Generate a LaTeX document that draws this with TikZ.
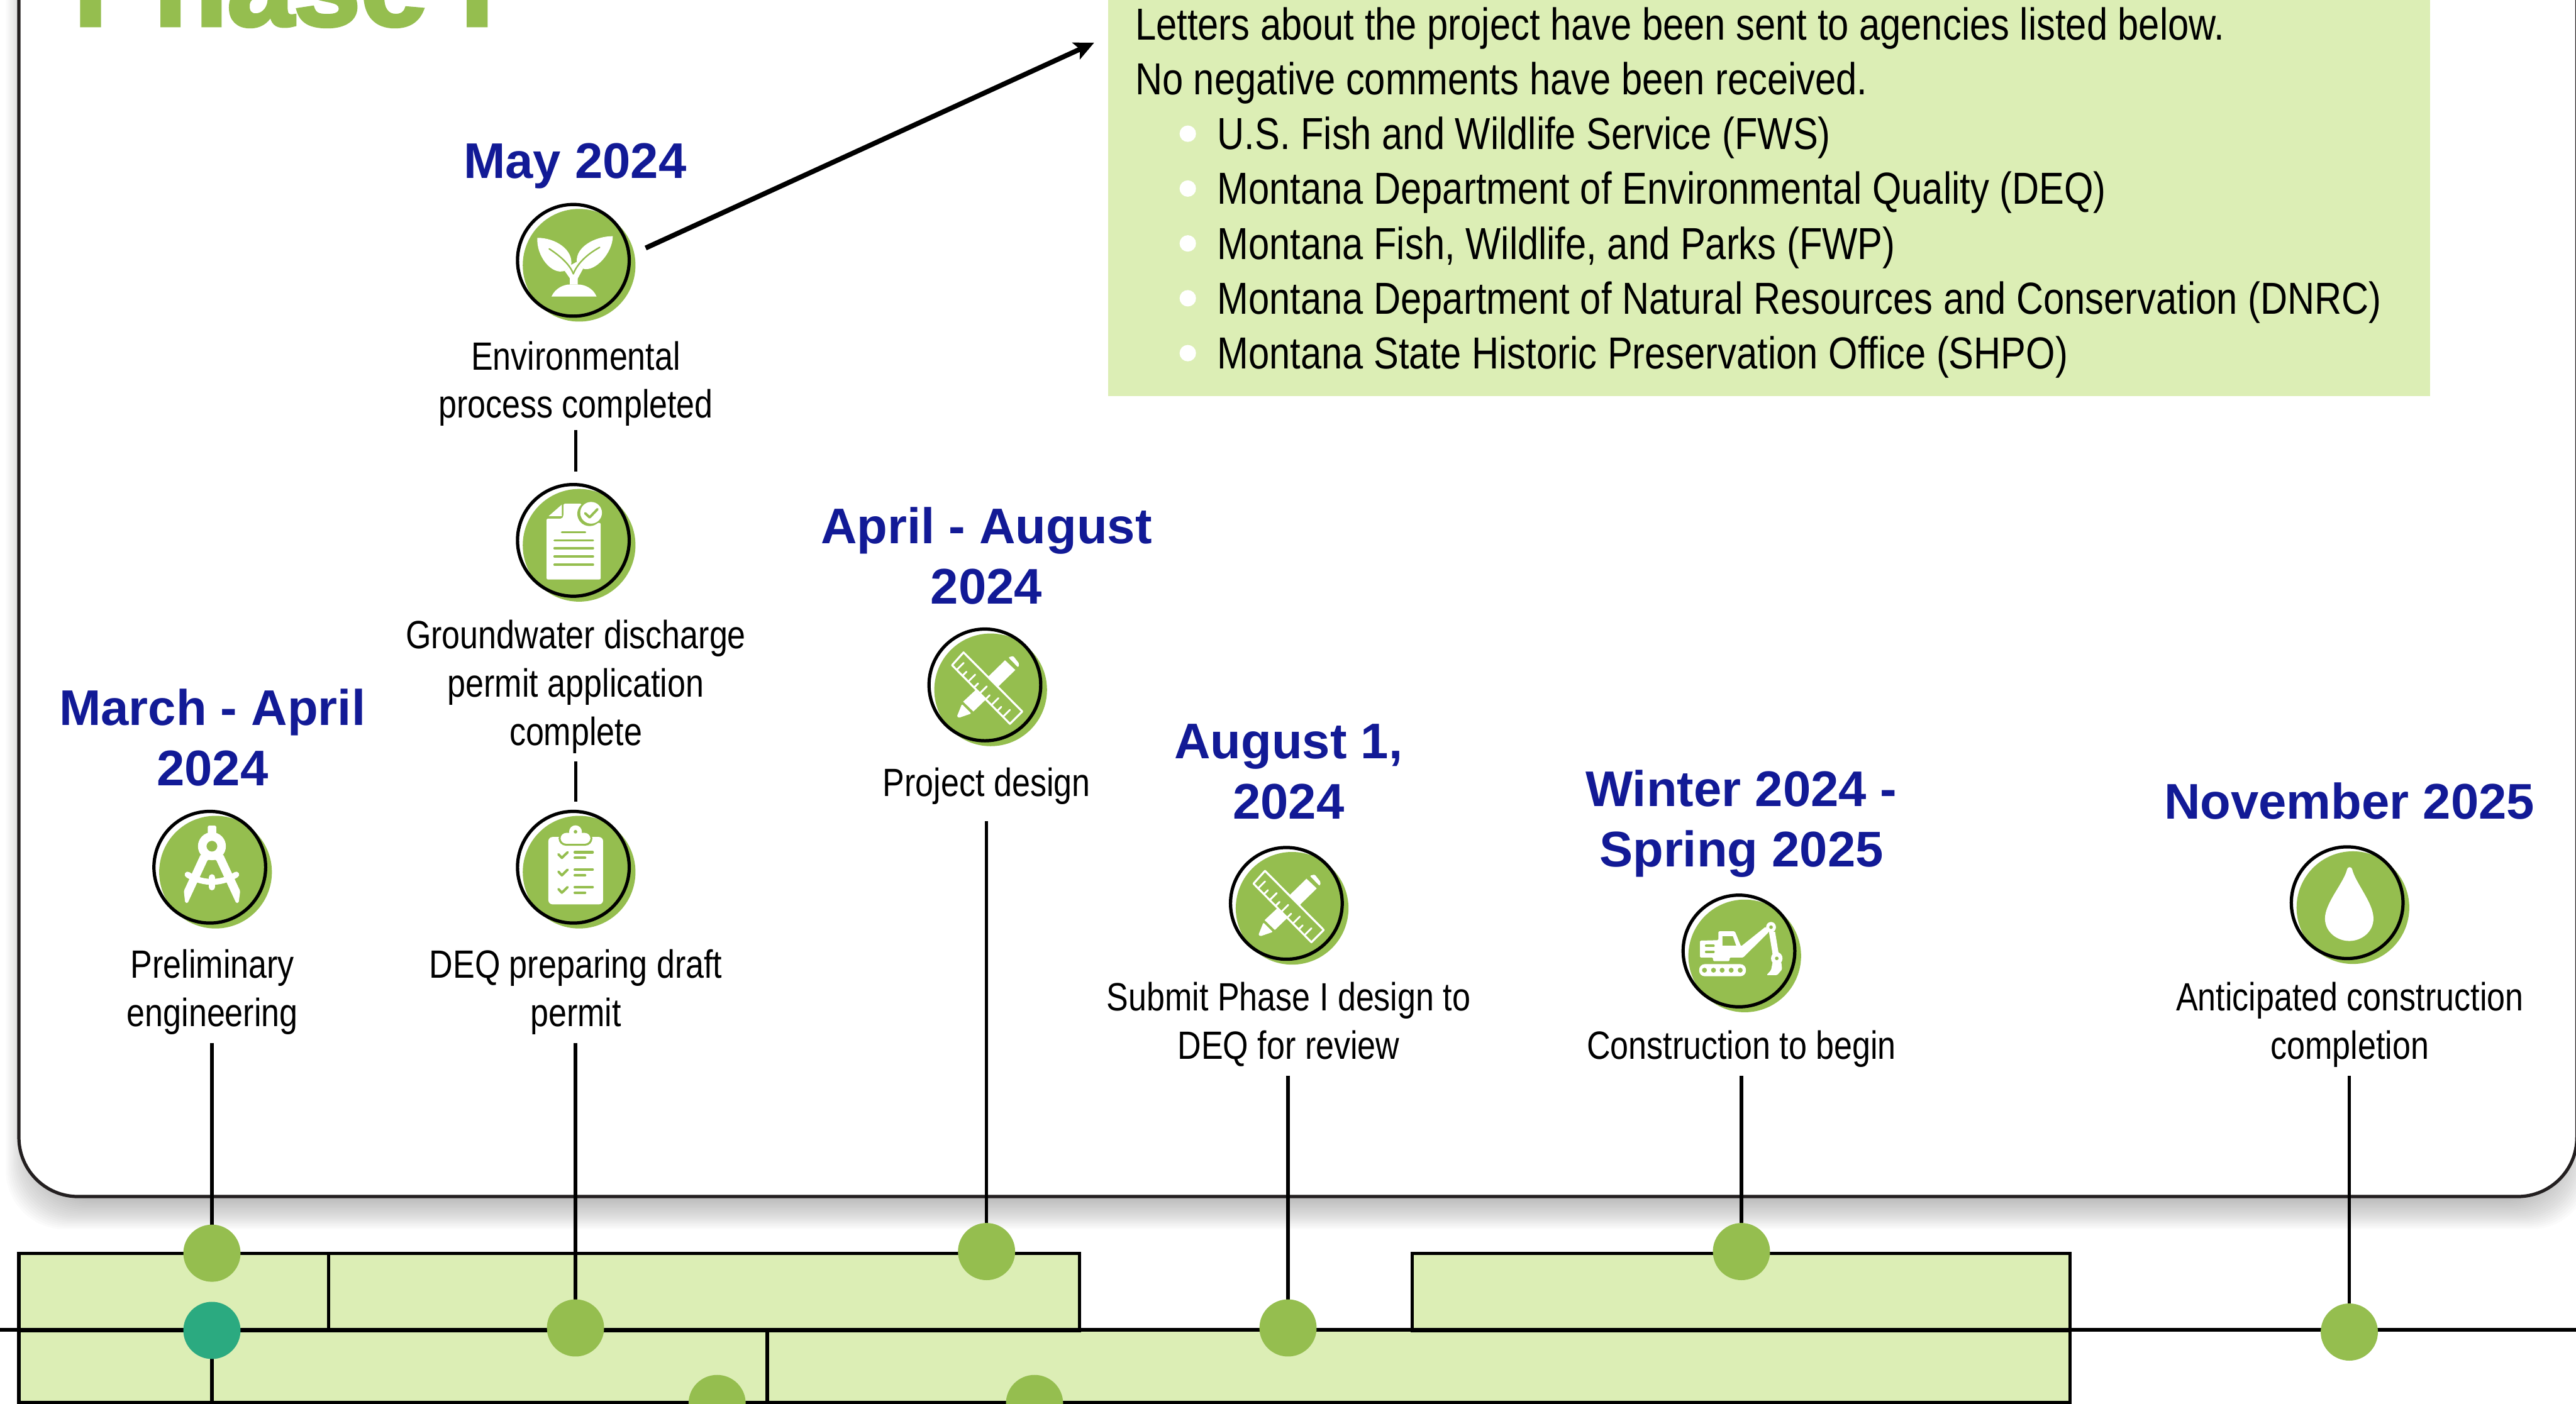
\documentclass[tikz,border=0pt]{standalone}
\usepackage{fontspec}
\usetikzlibrary{arrows.meta,backgrounds,calc}
\setmainfont{Liberation Sans}
\newfontfamily\narfont[FakeStretch=0.83]{Liberation Sans}
\newfontfamily\listfont[FakeStretch=0.837]{Liberation Sans}
\newfontfamily\titlefont[FakeBold=3]{Liberation Sans Bold}
\definecolor{ggreen}{HTML}{95BE4F}
\definecolor{lgreen}{HTML}{DCEEB5}
\definecolor{navy}{HTML}{121A96}
\definecolor{teal}{HTML}{2BAA80}
\definecolor{panelline}{HTML}{231F20}
\tikzset{
  x=1pt,y=-1pt,
  body/.style={font=\narfont\fontsize{24}{29.4}\selectfont,align=center,inner sep=0,outer sep=0,anchor=base},
  date/.style={font=\bfseries\fontsize{30.5}{36.8}\selectfont,text=navy,align=center,inner sep=0,outer sep=0,anchor=base},
  listline/.style={font=\listfont\fontsize{27.3}{33}\selectfont,inner sep=0,outer sep=0,anchor=base west},
  dot/.style={circle,fill=ggreen,minimum size=34.8pt,inner sep=0,outer sep=0},
  ring/.style={circle,draw=black,line width=2pt,minimum size=68pt,inner sep=0,outer sep=0},
  conn/.style={draw=black,line width=2pt},
  glyph/.style={fill=white,draw=none},
  gline/.style={draw=ggreen,line cap=round,line join=round},
}
\newcommand{\iconbase}[3]{%
  \fill[ggreen] (#2+3.5,#3+3) circle (34.3);
  \node[ring] (#1) at (#2,#3) {};
}
\begin{document}
\begin{tikzpicture}
\useasboundingbox (0,0) rectangle (1568,854.5);
\clip (0,0) rectangle (1568,854.5);

% dots on the timeline
\node[dot] (d1) at (129,763) {};
\node[dot,fill=teal] (d2) at (129,810) {};
\node[dot] (d3) at (350.3,808.5) {};
\node[dot] (d4) at (600.5,762) {};
\node[dot] (d5) at (784,808.5) {};
\node[dot] (d6) at (1060,762) {};
\node[dot] (d7) at (1430,811) {};
\node[dot] (d8) at (436.5,854.5) {};
\node[dot] (d9) at (629.7,854.5) {};

% icon discs and rings
\iconbase{env}{349}{158.5}
\iconbase{doc}{349}{329}
\iconbase{clip}{349}{528}
\iconbase{comp}{127.7}{528}
\iconbase{pen}{599.5}{417}
\iconbase{subm}{783}{550}
\iconbase{exc}{1058.5}{579}
\iconbase{drop}{1428.7}{549.6}

% title and texts
\node[inner sep=0,outer sep=0,anchor=base west,text=ggreen,font=\titlefont\fontsize{73}{73}\selectfont] (title) at (45,15.5) {Phase I};

\node[date] (dMay) at (350,108.4) {May 2024};
\node[date] (dMar) at (129.3,478.4) {March - April\\2024};
\node[date] (dApr) at (600.4,367.7) {April - August\\2024};
\node[date] (dAug) at (784.3,498.7) {August 1,\\2024};
\node[date] (dWin) at (1060,527.7) {Winter 2024 -\\Spring 2025};
\node[date] (dNov) at (1430,498.7) {November 2025};

\node[body] (tEnv) at (350.5,254.5) {Environmental\\process completed};
\node[body] (tGw) at (350.5,453.8) {Groundwater discharge\\permit application\\complete};
\node[body] (tDeq) at (350.5,625) {DEQ preparing draft\\permit};
\node[body] (tPre) at (129.3,625) {Preliminary\\engineering};
\node[body] (tPro) at (600.5,485) {Project design};
\node[body] (tSub) at (784.4,644.7) {Submit Phase I design to\\DEQ for review};
\node[body] (tCon) at (1060,644.7) {Construction to begin};
\node[body] (tAnt) at (1430.3,644.7) {Anticipated construction\\completion};

\node[listline] (l1) at (691,24.2) {Letters about the project have been sent to agencies listed below.};
\node[listline] (l2) at (691,57.6) {No negative comments have been received.};
\node[listline] (l3) at (741,91) {U.S. Fish and Wildlife Service (FWS)};
\node[listline] (l4) at (741,124.4) {Montana Department of Environmental Quality (DEQ)};
\node[listline] (l5) at (741,157.8) {Montana Fish, Wildlife, and Parks (FWP)};
\node[listline] (l6) at (741,191.2) {Montana Department of Natural Resources and Conservation (DNRC)};
\node[listline] (l7) at (741,224.6) {Montana State Historic Preservation Office (SHPO)};

% free ends of connectors
\coordinate (c1) at (129,635);
\coordinate (c2) at (129,856);
\coordinate (c3) at (350.3,635);
\coordinate (c4) at (600.5,500);
\coordinate (c5) at (784,655);
\coordinate (c6) at (1060,655);
\coordinate (c7) at (1430,655);
\coordinate (c8a) at (350.5,262);
\coordinate (c8b) at (350.5,287);
\coordinate (c9a) at (350.5,463.5);
\coordinate (c9b) at (350.5,488);
\coordinate (a1) at (393,151);
\coordinate (a2) at (666,26);
\coordinate (tlL) at (0,809.6);
\coordinate (tlR) at (1568,809.6);

\begin{pgfonlayer}{background}
  % panel shadow
  \foreach \k in {0,...,20}{
    \fill[black,opacity=0.017,rounded corners=36pt] (23.5-\k,-60) rectangle (1556.5+\k,728.5+\k);
  }
  % panel
  \draw[panelline,fill=white,line width=2pt,rounded corners=36pt] (11.5,-80) rectangle (1568.5,728.5);
  % phase bars
  \fill[lgreen] (11.5,763) rectangle (657,810);
  \fill[lgreen] (859.5,763) rectangle (1260,810);
  \fill[lgreen] (11.5,810) rectangle (1260,854);
  \draw[conn] (11.5,763) rectangle (657,810);
  \draw[conn] (859.5,763) rectangle (1260,810);
  \draw[conn] (11.5,809.6) -- (11.5,854) -- (1260,854) -- (1260,809.6);
  \draw[conn] (200,763) -- (200,809.6);
  \draw[conn] (467,809.6) -- (467,854);
  \draw[conn] (tlL) -- (tlR);
  % note box
  \fill[lgreen] (674.5,-5) rectangle (1479,241);
  % bullets
  \foreach \y in {81.4,114.8,148.2,181.6,215}{
    \fill[white] (723,\y) circle (5);
  }
  % connectors
  \draw[conn] (c1) -- (d1);
  \draw[conn] (d2) -- (c2);
  \draw[conn] (c3) -- (d3);
  \draw[conn] (c4) -- (d4);
  \draw[conn] (c5) -- (d5);
  \draw[conn] (c6) -- (d6);
  \draw[conn] (c7) -- (d7);
  \draw[conn] (c8a) -- (c8b);
  \draw[conn] (c9a) -- (c9b);
  \draw[black,line width=3pt,-{Stealth[length=12pt,width=11pt,inset=2.5pt]}] (a1) -- (a2);
\end{pgfonlayer}

% plant glyph
\begin{scope}[shift={(env.center)}]
  \fill[glyph] (-21.9,-13.7) .. controls (-10.7,-13.7) and (0,-6.4) .. (-1.3,2.75) -- (-5.3,6.4)
     .. controls (-13.3,9.2) and (-22.7,-2.7) .. cycle;
  \fill[glyph] (24,-14.7) .. controls (13.3,-14.7) and (1.3,-8.2) .. (2.1,0.9) -- (5.9,5.1)
     .. controls (13.3,7.3) and (24,-4.6) .. cycle;
  \fill[glyph] (-5.3,6.4) -- (-2.1,11) -- (-2.1,14.7) -- (2.7,14.7) -- (2.7,11) -- (5.9,5.1) -- (2.1,0.9) -- (-1.3,2.75) -- cycle;
  \fill[glyph] (-13.3,22) .. controls (-11,17) and (-6,14.7) .. (-2.1,14.7) -- (2.7,14.7)
     .. controls (7,14.7) and (12,17) .. (14.1,22) -- cycle;
  \draw[gline,line width=0.9pt] (-14.7,-7) .. controls (-7,-2) and (-2,3) .. (0,8.2);
  \draw[gline,line width=0.9pt] (16,-7.9) .. controls (7,-3) and (2,3) .. (0,8.2);
\end{scope}

% document glyph
\begin{scope}[shift={(doc.center)}]
  \fill[glyph,rounded corners=0.8pt] (-16.3,-13.2) -- (-7,-13.2) -- (-6,-14.8) -- (-6,-22.3) -- (5,-22.3) -- (5,-10) -- (16.6,-10.7) -- (16.6,23.8) -- (-16.3,23.8) -- cycle;
  \fill[glyph] (-15,-14.8) -- (-7,-21.8) -- (-7,-14.8) -- cycle;
  \fill[ggreen] (9.9,-16.2) circle (7.5);
  \fill[glyph] (10.8,-16.8) circle (6.6);
  \draw[gline,line width=1.5pt] (7.2,-16.5) -- (9.9,-14) -- (14.7,-19);
  \draw[gline,line width=1.3pt] (-7,-5) -- (7.2,-5);
  \foreach \y in {0,4.8,9.8,14.8}{
    \draw[gline,line width=1.3pt] (-11.5,\y) -- (12,\y);
  }
\end{scope}

% clipboard glyph
\begin{scope}[shift={(clip.center)}]
  \fill[glyph,rounded corners=2.5pt] (-15.2,-18.4) rectangle (18.1,22.6);
  \fill[ggreen,rounded corners=4.5pt] (-9,-21.9) rectangle (11.6,-13.1);
  \fill[glyph,rounded corners=3.5pt] (-7.8,-20.9) rectangle (10.4,-14.3);
  \fill[glyph] (1.3,-21.6) circle (3.9);
  \fill[ggreen] (1.3,-21.6) circle (1.1);
  \foreach \d in {0,10.6,21.2}{
    \draw[gline,line width=1.5pt] (-9.1,-7.9+\d) -- (-7,-5.7+\d) -- (-3.5,-9.1+\d);
    \draw[gline,line width=1.6pt] (0.9,-9.1+\d) -- (11.7,-9.1+\d);
    \draw[gline,line width=1.6pt] (0.9,-5.7+\d) -- (7.1,-5.7+\d);
  }
\end{scope}

% compass glyph
\begin{scope}[shift={(comp.center)}]
  \fill[glyph,rounded corners=0.8pt] (-1.2,-25.3) rectangle (3.9,-18);
  \fill[glyph,rounded corners=0.6pt] (-5.6,-7.7) -- (-15.8,14.5) -- (-15,21.5) -- (-13.5,21.9) -- (-1.2,-4.6) -- (3.8,-4.6) -- (16.1,21.9) -- (17.6,21.5) -- (18.5,14.5) -- (8.2,-7.7) -- cycle;
  \fill[glyph,even odd rule] (1.3,-12.8) circle (8.5) (1.3,-12.8) circle (3.3);
  \draw[white,line width=3.6pt,line cap=round] (-13.5,4.5) .. controls (-8,8) and (-3,8.9) .. (1.3,8.9) .. controls (5.5,8.9) and (10.5,8) .. (16.1,4.5);
  \draw[white,line width=3.9pt,line cap=round] (1.3,6.2) -- (1.3,12.1);
\end{scope}

% ruler and pencil glyphs (two icons)
\foreach \who in {pen,subm}{
\begin{scope}[shift={(\who.center)}]
  \fill[glyph,rounded corners=0.8pt] (14.25,-16.8) -- (17.25,-17.6) -- (21,-12.8) -- (20.25,-10.6) -- cycle;
  \fill[glyph] (12.25,-15) -- (18.5,-9.1) -- (8.25,0.9) -- (2,-5) -- cycle;
  \fill[glyph] (-5.75,3.2) -- (0.25,9.2) -- (-7,16.2) -- (-13.25,10.2) -- cycle;
  \fill[glyph,rounded corners=0.5pt] (-14,11.7) -- (-8.25,17.4) -- (-15.75,20) -- (-17,19.2) -- cycle;
  \draw[fill=ggreen,draw=white,line width=1.2pt,line join=round] (-13,-19.8) -- (-20,-12) -- (15.25,23.7) -- (22.75,16.2) -- cycle;
  \foreach \t/\l in {0.08/6,0.18/3.5,0.28/6,0.38/3.5,0.48/6,0.58/3.5,0.68/6,0.78/3.5,0.88/6}{
    \draw[white,line width=1.1pt,line cap=round] ($(-20,-12)!\t!(15.25,23.7)$) -- ++(\l*0.707,-\l*0.707);
  }
\end{scope}
}

% excavator glyph
\begin{scope}[shift={(exc.center)}]
  \fill[glyph,rounded corners=0.6pt] (-23.75,-6.3) -- (-12.5,-6.6) -- (-12.5,-12) -- (-2.5,-12) -- (1.25,-2.8) -- (16.25,-14.8) -- (18.25,-11.6) -- (2.5,4) -- (-5.75,4) -- (-5.75,6.2) -- (-15.75,6.2) -- (-15.75,4) -- (-23.75,4) -- cycle;
  \fill[ggreen] (-10,-9) -- (-3.75,-9) -- (-1.75,-3.3) -- (-10,-3.3) -- cycle;
  \draw[gline,line width=1.5pt] (-20,-3.1) -- (-15.5,-3.1);
  \draw[gline,line width=1.5pt] (-20,0.5) -- (-15.5,0.5);
  \fill[glyph] (19.5,-14.5) ellipse (3 and 3.2);
  \fill[ggreen] (19.5,-14.5) circle (1.1);
  \fill[glyph] (18.25,-11.6) -- (22,-11.6) -- (24.25,2.2) -- (20.5,2.2) -- cycle;
  \fill[glyph] (23,4.5) ellipse (3.5 and 3.8);
  \fill[ggreen] (23,4.5) circle (1.1);
  \fill[glyph,rounded corners=0.6pt] (20.5,6.7) -- (25.75,6.7) -- (26.25,11.2) -- (23.25,14.7) -- (16.75,14.7) -- (19.5,11.7) -- cycle;
  \fill[glyph,rounded corners=3.5pt] (-24.25,8) rectangle (4.25,15.4);
  \foreach \x in {-21,-15.5,-10.25,-4.75,0.75}{
    \fill[ggreen] (\x,11.7) circle (1.5);
  }
\end{scope}

% drop glyph
\begin{scope}[shift={(drop.center)}]
  \fill[glyph] (0,-20.5) .. controls (-2,-12) and (-13.5,0) .. (-13.5,9.6)
     .. controls (-13.5,18) and (-6,23.3) .. (1.3,23.3)
     .. controls (8.5,23.3) and (16,18) .. (16,9.6)
     .. controls (16,0) and (5,-12) .. (3,-20.5)
     .. controls (2.5,-22) and (0.5,-22) .. cycle;
\end{scope}
\end{tikzpicture}
\end{document}
